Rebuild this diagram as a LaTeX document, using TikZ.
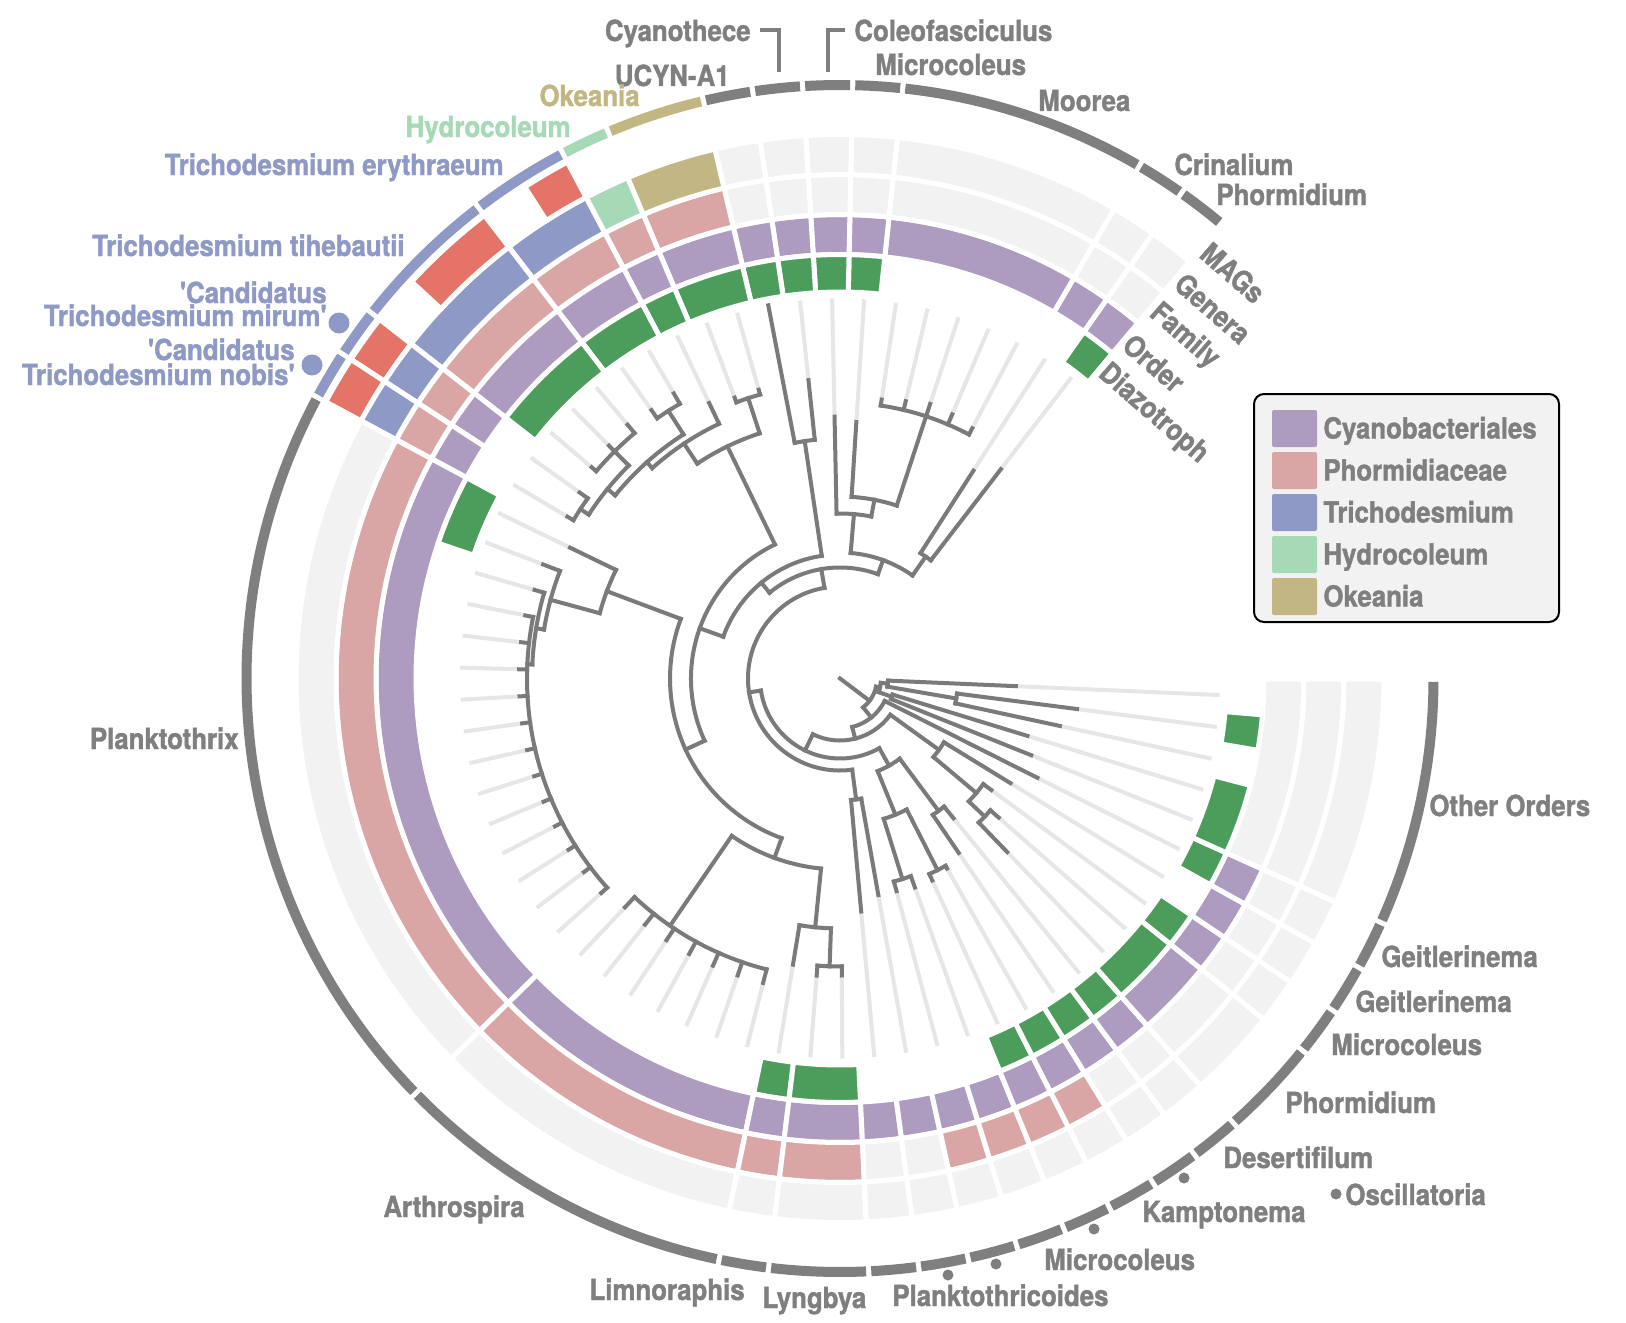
\documentclass[tikz,border=0pt]{standalone}
\usepackage{fontspec}
\newfontfamily\lab[FakeStretch=0.89,FakeBold=1.3]{TeX Gyre Heros}
\definecolor{rg}{HTML}{F2F2F2}
\definecolor{purp}{HTML}{AD9BC0}
\definecolor{pinkk}{HTML}{D9A6A5}
\definecolor{tblue}{HTML}{8E99C6}
\definecolor{mint}{HTML}{A6D9B6}
\definecolor{khaki}{HTML}{C2B783}
\definecolor{dgreen}{HTML}{4C9D5B}
\definecolor{mred}{HTML}{E47468}
\definecolor{dg}{HTML}{7F7F7F}
\definecolor{brc}{HTML}{7A7A7A}
\definecolor{tlc}{HTML}{E6E6E6}
\tikzset{
 br/.style={draw=brc, line width=2pt, line cap=rect},
 tl/.style={draw=tlc, line width=2pt},
 lbl/.style={font=\lab\bfseries\fontsize{14.5}{14.5}\selectfont, text=dg, inner sep=0pt},
 declare function={lth(\m)=52.46+4.842*\m;}
}
\newcommand\Cell[5]{\filldraw[fill=#5, draw=white, line width=2.5pt] ({lth(#1-0.5)}:#3) arc[start angle={lth(#1-0.5)}, end angle={lth(#2+0.5)}, radius=#3] -- ({lth(#2+0.5)}:#4) arc[start angle={lth(#2+0.5)}, end angle={lth(#1-0.5)}, radius=#4] -- cycle;}
\newcommand\Edge[3]{\draw[br] ({lth(#1)}:#2) -- ({lth(#1)}:#3);}
\newcommand\Arcc[3]{\draw[br] ({lth(#2)}:#1) arc[start angle={lth(#2)}, end angle={lth(#3)}, radius=#1];}
\newcommand\Tip[3]{\draw[tl] ({lth(#1)}:#3) -- ({lth(#1)}:380); \draw[br] ({lth(#1)}:#2) -- ({lth(#1)}:#3);}
\begin{document}
\begin{tikzpicture}[x=0.5pt,y=-0.5pt]
\useasboundingbox (0,0) rectangle (1626,1322);
\fill[white] (0,0) rectangle (1626,1322);
\begin{scope}[shift={(840,678.5)}, yscale=-1]
% ---- rings ----
\foreach \a/\b in {0/0,1/1,2/6,7/7,8/8,9/9,10/10,11/12,13/13,14/15,16/18,19/19,20/20,21/35,36/42,43/43,44/45,46/46,47/47,48/48,49/49,50/50,51/51,52/52,53/53,54/55,56/56,57/57,58/58} {\Cell{\a}{\b}{424}{464}{purp}}
\Cell{59}{63}{424}{464}{rg}
\foreach \a/\b/\c in {0/0/rg,1/1/rg,2/6/rg,7/7/rg,8/8/rg,9/9/rg,10/10/rg,11/12/pinkk,13/13/pinkk,14/15/pinkk,16/18/pinkk,19/19/pinkk,20/20/pinkk,21/35/pinkk,36/42/pinkk,43/43/pinkk,44/45/pinkk,46/46/rg,47/47/rg,48/48/pinkk,49/49/pinkk,50/50/pinkk,51/51/pinkk,52/52/rg,53/53/rg,54/55/rg,56/56/rg,57/57/rg,58/58/rg,59/63/rg} {\Cell{\a}{\b}{464}{504}{\c}}
\foreach \a/\b/\c in {0/0/rg,1/1/rg,2/6/rg,7/7/rg,8/8/rg,9/9/rg,10/10/rg,11/12/khaki,13/13/mint,14/15/tblue,16/18/tblue,19/19/tblue,20/20/tblue,21/35/rg,36/42/rg,43/43/rg,44/45/rg,46/46/rg,47/47/rg,48/48/rg,49/49/rg,50/50/rg,51/51/rg,52/52/rg,53/53/rg,54/55/rg,56/56/rg,57/57/rg,58/58/rg,59/63/rg} {\Cell{\a}{\b}{504}{544}{\c}}
\foreach \a/\b in {14/14,16/17,19/19,20/20} {\Cell{\a}{\b}{544}{584}{mred}}
\foreach \a/\b in {0/0,7/7,8/8,9/9,10/10,11/12,13/13,14/15,16/18,21/22,43/43,44/45,50/50,51/51,52/52,53/53,54/55,56/56,58/58,59/60,62/62} {\Cell{\a}{\b}{386.5}{424}{dgreen}}
% ---- outer clade arcs ----
\foreach \a/\b/\c in {0/0/dg,1/1/dg,2/6/dg,7/7/dg,8/8/dg,9/9/dg,10/10/dg,11/12/khaki,13/13/mint,14/15/tblue,16/18/tblue,19/19/tblue,20/20/tblue,21/35/dg,36/42/dg,43/43/dg,44/45/dg,46/46/dg,47/47/dg,48/48/dg,49/49/dg,50/50/dg,51/51/dg,52/52/dg,53/53/dg,54/55/dg,56/56/dg,57/57/dg,58/58/dg,59/63/dg}
 {\draw[line width=5pt, \c] ({lth(\a-0.5)+0.25}:593.5) arc[start angle={lth(\a-0.5)+0.25}, end angle={lth(\b+0.5)-0.25}, radius=593.5];}
% ---- tree: top-right clade ----
\Tip{0}{149}{264} \Tip{1}{149}{247} \Arcc{149}{0}{1} \Edge{0.5}{126}{149}
\Arcc{276}{2}{6} \Tip{2}{276}{283} \Tip{3}{276}{287} \Tip{4}{276}{289} \Tip{5}{276}{285} \Tip{6}{276}{282} \Edge{4}{182}{276}
\Tip{7}{182}{257} \Arcc{182}{4}{7} \Edge{5.5}{165}{182}
\Tip{8}{165}{262} \Arcc{165}{5.5}{8} \Edge{6.75}{126}{165}
\Arcc{126}{0.5}{6.75} \Edge{3.625}{111}{126}
\Tip{9}{240}{300} \Tip{10}{240}{380} \Arcc{240}{9}{10} \Edge{9.5}{124}{240}
\Arcc{124}{9.5}{22.27} \Edge{15.89}{111}{124}
\Arcc{111}{3.625}{15.89} \Edge{9.76}{92}{111}
% Okeania / Hydrocoleum / Trichodesmium
\Arcc{149}{13.1}{31.44} \Edge{22.27}{124}{149}
\Edge{13.1}{149}{258} \Arcc{258}{11.5}{14.69}
\Edge{11.5}{258}{295} \Arcc{295}{11}{12} \Tip{11}{295}{300} \Tip{12}{295}{300}
\Edge{14.69}{258}{282} \Arcc{282}{13}{16.375} \Tip{13}{282}{305}
\Edge{16.375}{282}{290} \Arcc{290}{14.5}{18.25}
\Edge{14.5}{290}{318} \Arcc{318}{14}{15} \Tip{14}{318}{330} \Tip{15}{318}{328}
\Edge{18.25}{290}{300} \Arcc{300}{17}{19.5}
\Edge{17}{300}{320} \Arcc{320}{16}{18} \Tip{16}{320}{331} \Tip{17}{320}{328} \Tip{18}{320}{326}
\Edge{19.5}{300}{310} \Arcc{310}{19}{20} \Tip{19}{310}{320} \Tip{20}{310}{317}
% Planktothrix / Arthrospira / Limnoraphis / Lyngbya
\Edge{31.44}{149}{170} \Arcc{170}{22.1}{40.78}
\Edge{22.1}{170}{249} \Arcc{249}{21}{23.2} \Tip{21}{249}{300}
\Edge{23.2}{249}{300} \Arcc{300}{22}{24.4} \Tip{22}{300}{318}
\Edge{24.4}{300}{308} \Arcc{308}{23}{25.8} \Tip{23}{308}{318}
\Edge{25.8}{308}{313} \Arcc{313}{24}{35}
\foreach \m in {24,...,35} {\Tip{\m}{313}{321}}
\Edge{40.78}{170}{191} \Arcc{191}{37.8}{43.75}
\Edge{37.8}{191}{300} \Arcc{300}{36}{42}
\foreach \m in {36,...,42} {\Tip{\m}{300}{314}}
\Edge{43.75}{191}{250} \Arcc{250}{43}{44.5} \Tip{43}{250}{290} \Edge{44.5}{250}{288} \Arcc{288}{44}{45} \Tip{44}{288}{298} \Tip{45}{288}{297}
% inner spiral
\Arcc{92}{9.76}{46.5} \Edge{28.13}{80}{92}
\Edge{46.5}{92}{122} \Arcc{122}{46}{47} \Tip{46}{122}{234} \Tip{47}{122}{220}
\Arcc{80}{28.13}{51.0} \Edge{39.57}{62}{80}
\Edge{51.0}{80}{100} \Arcc{100}{49.5}{52.5}
\Edge{49.5}{100}{147} \Arcc{147}{48.5}{50.5} \Edge{48.5}{147}{210} \Edge{50.5}{147}{215}
\Arcc{210}{48}{49} \Tip{48}{210}{220} \Tip{49}{210}{222}
\Arcc{215}{50}{51} \Tip{50}{215}{222} \Tip{51}{215}{218}
\Edge{52.5}{100}{165} \Arcc{165}{52}{53} \Tip{52}{165}{211} \Tip{53}{165}{180}
\Arcc{62}{39.57}{56.125} \Edge{47.85}{50}{62}
\Edge{56.125}{62}{122} \Arcc{122}{55.25}{57} \Tip{57}{122}{200}
\Edge{55.25}{122}{178} \Arcc{178}{54.5}{56} \Tip{56}{178}{188}
\Edge{54.5}{178}{200} \Arcc{200}{54}{55} \Tip{54}{200}{241} \Tip{55}{200}{211}
\Arcc{50}{47.85}{58} \Tip{58}{50}{221} \Edge{52.92}{37}{50}
\Edge{55.87}{0}{37} \Arcc{37}{52.92}{60.875}
% other orders
\Edge{60.875}{37}{41} \Arcc{41}{59.5}{62.25} \Edge{59.5}{41}{55} \Arcc{55}{59}{60} \Tip{59}{55}{206} \Tip{60}{55}{196}
\Edge{62.25}{41}{48} \Arcc{48}{61.5}{63} \Tip{63}{48}{176} \Edge{61.5}{48}{118} \Arcc{118}{61}{62} \Tip{61}{118}{225} \Tip{62}{118}{239}
% ---- ring labels ----
\node[lbl, anchor=west, rotate=-41] (rl1) at (49.7:564) {MAGs};
\node[lbl, anchor=west, rotate=-41] (rl2) at (49.7:524) {Genera};
\node[lbl, anchor=west, rotate=-41] (rl3) at (49.7:484) {Family};
\node[lbl, anchor=west, rotate=-41] (rl4) at (49.7:444) {Order};
\node[lbl, anchor=west, rotate=-41] (rl5) at (49.7:405) {Diazotroph};
\end{scope}
% ---- brackets ----
\draw[dg, line width=2pt] (760,30) -- (779,30) -- (779,72);
\draw[dg, line width=2pt] (845,30) -- (828,30) -- (828,72);
% ---- clade labels ----
\node[lbl, anchor=base east] (l1) at (751,41) {Cyanothece};
\node[lbl, anchor=base west] (l2) at (854,41) {Coleofasciculus};
\node[lbl, anchor=base west] (l3) at (875,75) {Microcoleus};
\node[lbl, anchor=base east] (l4) at (730,86) {UCYN-A1};
\node[lbl, anchor=base east, text=khaki] (l5) at (640,106) {Okeania};
\node[lbl, anchor=base east, text=mint] (l6) at (571,137) {Hydrocoleum};
\node[lbl, anchor=base east, text=tblue] (l7) at (504,175) {Trichodesmium erythraeum};
\node[lbl, anchor=base east, text=tblue] (l8) at (405,256) {Trichodesmium tihebautii};
\node[lbl, anchor=base east, text=tblue] (l9) at (327,303) {'Candidatus};
\node[lbl, anchor=base east, text=tblue] (l10) at (327,326) {Trichodesmium mirum'};
\node[lbl, anchor=base east, text=tblue] (l11) at (295,360) {'Candidatus};
\node[lbl, anchor=base east, text=tblue] (l12) at (295,385) {Trichodesmium nobis'};
\fill[tblue] (339,323) circle[radius=10.5];
\fill[tblue] (312,365) circle[radius=10.5];
\node[lbl, anchor=base east] (l13) at (239,749) {Planktothrix};
\node[lbl, anchor=base east] (l14) at (525,1217) {Arthrospira};
\node[lbl, anchor=base east] (l15) at (745,1300) {Limnoraphis};
\node[lbl, anchor=base west] (l16) at (762,1308) {Lyngbya};
\node[lbl, anchor=base west] (l17) at (892,1306) {Planktothricoides};
\node[lbl, anchor=base west] (l18) at (1044,1270) {Microcoleus};
\node[lbl, anchor=base west] (l19) at (1142,1222) {Kamptonema};
\node[lbl, anchor=base west] (l20) at (1345,1205) {Oscillatoria};
\node[lbl, anchor=base west] (l21) at (1223,1168) {Desertifilum};
\node[lbl, anchor=base west] (l22) at (1285,1113) {Phormidium};
\node[lbl, anchor=base west] (l23) at (1331,1055) {Microcoleus};
\node[lbl, anchor=base west] (l24) at (1355,1012) {Geitlerinema};
\node[lbl, anchor=base west] (l25) at (1381,967) {Geitlerinema};
\node[lbl, anchor=base west] (l26) at (1429,816) {Other Orders};
\node[lbl, anchor=base west] (l27) at (1038,111) {Moorea};
\node[lbl, anchor=base west] (l28) at (1174,175) {Crinalium};
\node[lbl, anchor=base west] (l29) at (1216,205) {Phormidium};
\foreach \p in {(948,1275),(996,1264),(1094,1229),(1184,1178),(1336,1194)} {\fill[dg] \p circle[radius=5.5];}
% ---- legend ----
\draw[line width=1pt, fill=rg, rounded corners=5pt] (1254,394) rectangle (1559,622);
\foreach \c/\col/\t [count=\i] in {428.5/purp/Cyanobacteriales,470.5/pinkk/Phormidiaceae,512.5/tblue/Trichodesmium,554.5/mint/Hydrocoleum,596.5/khaki/Okeania}
 {\fill[\col, rounded corners=1pt] (1272,\c-18.5) rectangle (1317,\c+18.5);
  \node[lbl, anchor=base west] (lg\i) at (1323,\c+10) {\t};}
\end{tikzpicture}
\end{document}
